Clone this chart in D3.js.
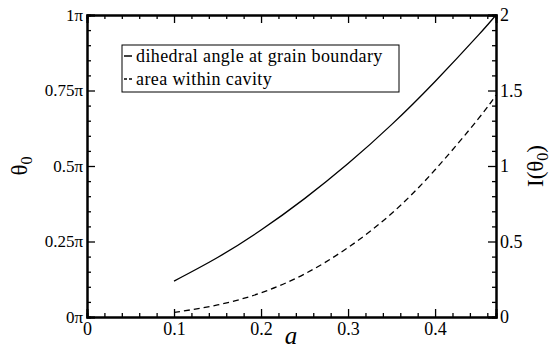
<!DOCTYPE html>
<html>
<head>
<meta charset="utf-8">
<script src="https://cdn.jsdelivr.net/npm/d3@7"></script>
<style>
  body { margin: 0; background: #fff; }
  svg text { font-family: "Liberation Serif", "Times New Roman", Times, "DejaVu Serif", serif; }
</style>
</head>
<body>
<div id="chart"></div>
<script>
// values
const aValues = [0.1, 0.15, 0.2, 0.25, 0.3, 0.35, 0.4, 0.45, 0.47];
const thetaOverPi = [0.119, 0.197, 0.288, 0.392, 0.508, 0.637, 0.780, 0.934, 1.0];
const areaValues = [0.03, 0.08, 0.16, 0.285, 0.46, 0.685, 0.975, 1.315, 1.47];

const xTicks = [0, 0.1, 0.2, 0.3, 0.4];
const leftTicks = [0, 0.25, 0.5, 0.75, 1];
const rightTicks = [0, 0.5, 1, 1.5, 2];
const legendLabels = ['dihedral angle at grain boundary', 'area within cavity'];

const width = 552, height = 350;
const margin = { left: 87, right: 56, top: 15, bottom: 33 };
const plotW = width - margin.left - margin.right;
const plotH = height - margin.top - margin.bottom;

const svg = d3.select('#chart').append('svg').attr('width', width).attr('height', height);
const g = svg.append('g').attr('transform', `translate(${margin.left},${margin.top})`);

const x = d3.scaleLinear().domain([0, 0.47]).range([0, plotW]);
const yL = d3.scaleLinear().domain([0, 1]).range([plotH, 0]);
const yR = d3.scaleLinear().domain([0, 2]).range([plotH, 0]);

function minors(ticks, step, max) {
  const out = [];
  for (let v = 0; v <= max + 1e-9; v += step) {
    const r = Math.round(v * 1000) / 1000;
    if (!ticks.some(t => Math.abs(t - r) < 1e-6)) out.push(r);
  }
  return out;
}

function styleAxis(sel, fontSize) {
  sel.attr('font-family', null);
  sel.select('.domain').attr('stroke-width', 2);
  sel.selectAll('.tick line').attr('stroke-width', 1.3);
  sel.selectAll('text').style('font-size', fontSize + 'px').attr('fill', '#000');
}

// minor ticks
g.append('g').attr('transform', `translate(0,${plotH})`)
  .call(d3.axisBottom(x).tickValues(minors(xTicks, 0.02, 0.47)).tickSize(-4).tickFormat(''))
  .call(s => styleAxis(s, 16));
g.append('g')
  .call(d3.axisTop(x).tickValues(minors(xTicks, 0.02, 0.47)).tickSize(-4).tickFormat(''))
  .call(s => styleAxis(s, 16));
g.append('g')
  .call(d3.axisLeft(yL).tickValues(minors(leftTicks, 0.05, 1)).tickSize(-4).tickFormat(''))
  .call(s => styleAxis(s, 16));
g.append('g').attr('transform', `translate(${plotW},0)`)
  .call(d3.axisRight(yR).tickValues(minors(rightTicks, 0.1, 2)).tickSize(-4).tickFormat(''))
  .call(s => styleAxis(s, 16));

// major ticks
g.append('g').attr('transform', `translate(0,${plotH})`)
  .call(d3.axisBottom(x).tickValues(xTicks).tickSize(-8).tickPadding(5).tickFormat(d3.format('')))
  .call(s => styleAxis(s, 18));
g.append('g')
  .call(d3.axisTop(x).tickValues(xTicks).tickSize(-8).tickFormat(''))
  .call(s => styleAxis(s, 16));
g.append('g')
  .call(d3.axisLeft(yL).tickValues(leftTicks).tickSize(-8).tickPadding(4).tickFormat(d => d + 'π'))
  .call(s => styleAxis(s, 17));
g.append('g').attr('transform', `translate(${plotW},0)`)
  .call(d3.axisRight(yR).tickValues(rightTicks).tickSize(-8).tickPadding(4).tickFormat(d3.format('')))
  .call(s => styleAxis(s, 18));

// curves
const solidLine = d3.line().x((d, i) => x(aValues[i])).y(d => yL(d)).curve(d3.curveNatural);
const dashLine = d3.line().x((d, i) => x(aValues[i])).y(d => yR(d)).curve(d3.curveNatural);

g.append('path').datum(thetaOverPi).attr('d', solidLine)
  .attr('fill', 'none').attr('stroke', '#000').attr('stroke-width', 1.3);
g.append('path').datum(areaValues).attr('d', dashLine)
  .attr('fill', 'none').attr('stroke', '#000').attr('stroke-width', 1.3)
  .attr('stroke-dasharray', '6,4');

// legend
const lg = svg.append('g').attr('transform', 'translate(122,45)');
lg.append('rect').attr('width', 277).attr('height', 47)
  .attr('fill', '#fff').attr('stroke', '#000').attr('stroke-width', 1);
legendLabels.forEach((lab, i) => {
  const yy = 11 + i * 23;
  lg.append('line').attr('x1', 2).attr('x2', 10).attr('y1', yy).attr('y2', yy)
    .attr('stroke', '#000').attr('stroke-width', 1.5)
    .attr('stroke-dasharray', i === 1 ? '3,2' : null);
  lg.append('text').attr('x', 14).attr('y', yy + 6).style('font-size', '18px')
    .style('letter-spacing', '0.4px').text(lab);
});

// axis titles
svg.append('text').attr('x', 291).attr('y', 344).attr('text-anchor', 'middle')
  .style('font-size', '25px').style('font-style', 'italic').text('a');

const tl = svg.append('text').attr('transform', 'translate(27,166) rotate(-90)')
  .attr('text-anchor', 'middle').style('font-size', '23px');
tl.append('tspan').text('θ');
tl.append('tspan').attr('dy', 5).style('font-size', '16px').text('0');

const tr = svg.append('text').attr('transform', 'translate(543,166) rotate(-90)')
  .attr('text-anchor', 'middle').style('font-size', '23px');
tr.append('tspan').text('I(θ');
tr.append('tspan').attr('dy', 5).style('font-size', '16px').text('0');
tr.append('tspan').attr('dy', -5).text(')');
</script>
</body>
</html>
